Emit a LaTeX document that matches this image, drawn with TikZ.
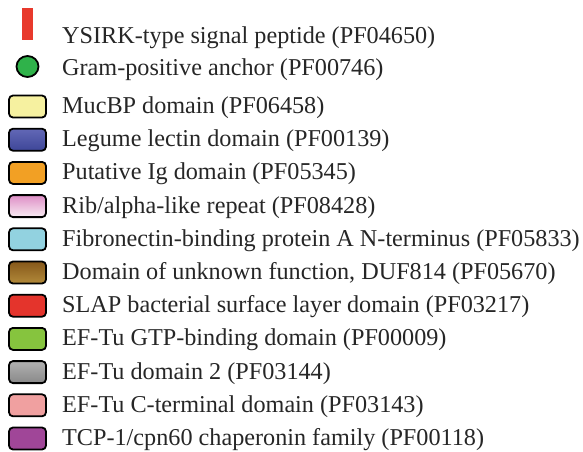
\documentclass[tikz,border=0pt]{standalone}
\usepackage{fontspec}
\setmainfont{Liberation Serif}
\usetikzlibrary{shapes.geometric}
\definecolor{sigred}{HTML}{E8392C}
\definecolor{anchorgreen}{HTML}{2FB24A}
\definecolor{mucyellow}{RGB}{246,241,160}
\definecolor{lectintop}{RGB}{98,104,182}
\definecolor{lectinbot}{RGB}{62,70,152}
\definecolor{igorange}{RGB}{242,160,36}
\definecolor{ribtop}{RGB}{222,142,198}
\definecolor{ribbot}{RGB}{248,236,242}
\definecolor{fbpcyan}{RGB}{146,210,224}
\definecolor{duftop}{RGB}{134,88,26}
\definecolor{dufbot}{RGB}{178,138,58}
\definecolor{slapred}{RGB}{228,52,44}
\definecolor{gtpgreen}{RGB}{134,196,62}
\definecolor{greytop}{RGB}{178,178,178}
\definecolor{greymid}{RGB}{216,216,216}
\definecolor{greybot}{RGB}{136,136,136}
\definecolor{ctpink}{RGB}{240,160,160}
\definecolor{tcppurple}{RGB}{160,70,152}
\tikzset{
  legendbox/.style={draw=black, line width=1.8pt, rounded corners=4pt,
    minimum width=37pt, minimum height=22pt, inner sep=0pt},
  legendtext/.style={anchor=base west, inner sep=0pt,
    font=\fontsize{24.2}{28}\selectfont, text=black!85},
}
\newcommand{\legendrow}[3]{%
  \node[legendbox, #2] (box#1) at (27.5,{106.5+33.2*#1}) {};
  \node[legendtext] (lbl#1) at (62,{113.4+33.2*#1}) {#3};
}
\begin{document}
\begin{tikzpicture}[x=1pt,y=-1pt]
\useasboundingbox (0,0) rectangle (583,451);

% signal peptide and anchor glyphs
\node[fill=sigred, minimum width=11pt, minimum height=32pt, inner sep=0pt] (sig) at (27.5,24) {};
\node[legendtext] (sigtxt) at (62,43.2) {YSIRK-type signal peptide (PF04650)};
\node[draw=black, line width=1.8pt, fill=anchorgreen, ellipse, minimum width=22pt, minimum height=21pt, inner sep=0pt] (anc) at (27.5,66.5) {};
\node[legendtext] (anctxt) at (62,75.2) {Gram-positive anchor (PF00746)};

% domain boxes
\legendrow{0}{fill=mucyellow}{MucBP domain (PF06458)}
\legendrow{1}{top color=lectintop, bottom color=lectinbot}{Legume lectin domain (PF00139)}
\legendrow{2}{fill=igorange}{Putative Ig domain (PF05345)}
\legendrow{3}{top color=ribtop, bottom color=ribbot}{Rib/alpha-like repeat (PF08428)}
\legendrow{4}{fill=fbpcyan}{Fibronectin-binding protein A N-terminus (PF05833)}
\legendrow{5}{top color=duftop, bottom color=dufbot}{Domain of unknown function, DUF814 (PF05670)}
\legendrow{6}{fill=slapred}{SLAP bacterial surface layer domain (PF03217)}
\legendrow{7}{fill=gtpgreen}{EF-Tu GTP-binding domain (PF00009)}
\legendrow{8}{top color=greytop, middle color=greymid, bottom color=greybot}{EF-Tu domain 2 (PF03144)}
\legendrow{9}{fill=ctpink}{EF-Tu C-terminal domain (PF03143)}
\legendrow{10}{fill=tcppurple}{TCP-1/cpn60 chaperonin family (PF00118)}
\end{tikzpicture}
\end{document}
